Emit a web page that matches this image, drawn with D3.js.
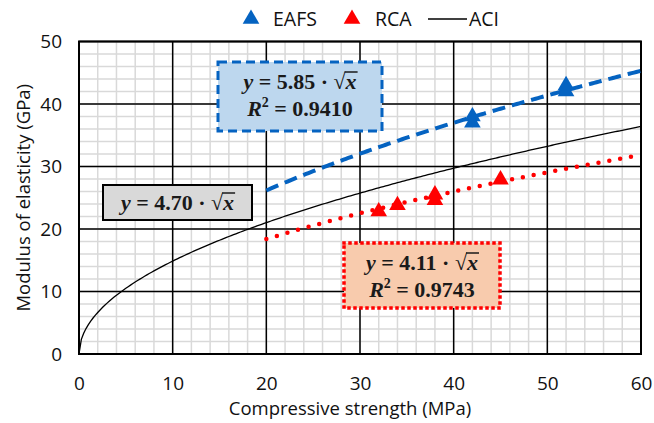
<!DOCTYPE html>
<html>
<head>
<meta charset="utf-8">
<script src="https://cdn.jsdelivr.net/npm/d3@7"></script>
<style>
  body { margin: 0; background: #fff; }
  text { font-family: "Open Sans", "Liberation Sans", sans-serif; }
  .eq { font-family: "Liberation Serif", "DejaVu Serif", serif; font-weight: bold; }
</style>
</head>
<body>
<svg id="chart" width="654" height="423"></svg>
<script>
const eafsX = [42, 42, 52, 52];
const eafsY = [38, 37, 43, 42];
const rcaX = [32, 34, 38, 38, 45];
const rcaY = [22.8, 23.8, 25.5, 24.6, 27.9];

// trendline coefficients y = a * sqrt(x), and their range of x
const fitNames = ["EAFS", "RCA", "ACI"];
const fitCoef = [5.85, 4.11, 4.70];
const fitR2 = ["0.9410", "0.9743", null];
const fitFrom = [20, 20, 0];

const xTicks = [0, 10, 20, 30, 40, 50, 60];
const yTicks = [0, 10, 20, 30, 40, 50];

const width = 654, height = 423;
const margin = { left: 79, right: 13, top: 41.5, bottom: 69 };

const svg = d3.select("#chart");

const x = d3.scaleLinear().domain([0, 60]).range([margin.left, width - margin.right]);
const y = d3.scaleLinear().domain([0, 50]).range([height - margin.bottom, margin.top]);

// minor grid
const grid = svg.append("g");
grid.selectAll(".vmin")
  .data(d3.range(0, 61, 2))
  .enter().append("line")
  .attr("x1", d => x(d)).attr("x2", d => x(d))
  .attr("y1", y(0)).attr("y2", y(50))
  .attr("stroke", "#d9d9d9").attr("stroke-width", 1.5);
grid.selectAll(".hmin")
  .data(d3.range(0, 51, 2))
  .enter().append("line")
  .attr("y1", d => y(d)).attr("y2", d => y(d))
  .attr("x1", x(0)).attr("x2", x(60))
  .attr("stroke", "#d9d9d9").attr("stroke-width", 1.5);

// major grid
grid.selectAll(".vmaj")
  .data(xTicks)
  .enter().append("line")
  .attr("x1", d => x(d)).attr("x2", d => x(d))
  .attr("y1", y(0)).attr("y2", y(50))
  .attr("stroke", "#000").attr("stroke-width", 1.5);
grid.selectAll(".hmaj")
  .data(yTicks)
  .enter().append("line")
  .attr("y1", d => y(d)).attr("y2", d => y(d))
  .attr("x1", x(0)).attr("x2", x(60))
  .attr("stroke", "#000").attr("stroke-width", 1.5);

svg.append("rect")
  .attr("x", x(0)).attr("y", y(50))
  .attr("width", x(60) - x(0)).attr("height", y(0) - y(50))
  .attr("fill", "none").attr("stroke", "#000").attr("stroke-width", 2);

// axes
const xAxis = svg.append("g")
  .attr("transform", `translate(0, ${y(0) + 19})`)
  .call(d3.axisBottom(x).tickValues(xTicks).tickSize(0));
xAxis.select(".domain").remove();
xAxis.selectAll("text").attr("font-size", 19).attr("fill", "#111").attr("font-family", "Open Sans");

const yAxis = svg.append("g")
  .attr("transform", `translate(${x(0) - 14}, 0)`)
  .call(d3.axisLeft(y).tickValues(yTicks).tickSize(0));
yAxis.select(".domain").remove();
yAxis.selectAll("text").attr("font-size", 19).attr("fill", "#111").attr("font-family", "Open Sans");

svg.append("text")
  .attr("x", 350).attr("y", 415)
  .attr("text-anchor", "middle").attr("font-size", 18.5).attr("fill", "#111")
  .text("Compressive strength (MPa)");

svg.append("text")
  .attr("transform", `translate(30, ${(y(0) + y(50)) / 2}) rotate(-90)`)
  .attr("text-anchor", "middle").attr("font-size", 18.5).attr("fill", "#111")
  .text("Modulus of elasticity (GPa)");

// trend curves
const line = d3.line().x(d => x(d[0])).y(d => y(d[1]));
function curve(i) {
  return d3.range(fitFrom[i], 60.001, 0.25).map(v => [v, fitCoef[i] * Math.sqrt(v)]);
}

svg.append("path")
  .datum(curve(2))
  .attr("d", line)
  .attr("fill", "none").attr("stroke", "#000").attr("stroke-width", 1.3);

svg.append("path")
  .datum(curve(0))
  .attr("d", line)
  .attr("fill", "none").attr("stroke", "#0563c1").attr("stroke-width", 4)
  .attr("stroke-dasharray", "13 7");

svg.append("path")
  .datum(curve(1))
  .attr("d", line)
  .attr("fill", "none").attr("stroke", "#ff0000").attr("stroke-width", 4.5)
  .attr("stroke-linecap", "round")
  .attr("stroke-dasharray", "0 11");

// markers
const tri = d3.symbol().type(d3.symbolTriangle).size(120);
svg.selectAll(".eafs")
  .data(d3.zip(eafsX, eafsY))
  .enter().append("path")
  .attr("d", tri)
  .attr("transform", d => `translate(${x(d[0])}, ${y(d[1])})`)
  .attr("fill", "#0563c1");
svg.selectAll(".rca")
  .data(d3.zip(rcaX, rcaY))
  .enter().append("path")
  .attr("d", tri)
  .attr("transform", d => `translate(${x(d[0])}, ${y(d[1])})`)
  .attr("fill", "#ff0000");

// equation boxes
function eqLine(g, cx, by, coef, isR2) {
  const t = g.append("text")
    .attr("class", "eq").attr("x", cx).attr("y", by)
    .attr("text-anchor", "middle").attr("font-size", 22).attr("fill", "#1a1a1a");
  if (isR2) {
    t.append("tspan").attr("font-style", "italic").text("R");
    t.append("tspan").attr("font-size", 14).attr("dy", -9).text("2");
    t.append("tspan").attr("dy", 9).text(" = " + coef);
  } else {
    t.append("tspan").attr("font-style", "italic").text("y");
    t.append("tspan").text(" = " + coef + " · √");
    const xs = t.append("tspan").attr("font-style", "italic").text("x");
    const node = xs.node();
    const x0 = node.getStartPositionOfChar(0).x;
    const x1 = node.getEndPositionOfChar(0).x;
    g.append("line")
      .attr("x1", x0 - 1).attr("x2", x1 + 1)
      .attr("y1", by - 17).attr("y2", by - 17)
      .attr("stroke", "#1a1a1a").attr("stroke-width", 1.5);
  }
}

const boxes = [
  { i: 0, x0: 218, y0: 62, x1: 382, y1: 131, fill: "#bdd7ee", stroke: "#0563c1", dash: "9 5", w: 3, cap: "butt" },
  { i: 1, x0: 344, y0: 243, x1: 500, y1: 308, fill: "#f8cbad", stroke: "#ff0000", dash: "0 6", w: 3.5, cap: "square" },
  { i: 2, x0: 103, y0: 185, x1: 252, y1: 220, fill: "#d9d9d9", stroke: "#000", dash: null, w: 2, cap: "butt" }
];

boxes.forEach(b => {
  const g = svg.append("g");
  g.append("rect")
    .attr("x", b.x0).attr("y", b.y0)
    .attr("width", b.x1 - b.x0).attr("height", b.y1 - b.y0)
    .attr("fill", b.fill).attr("stroke", b.stroke).attr("stroke-width", b.w)
    .attr("stroke-dasharray", b.dash).attr("stroke-linecap", b.cap);
  const cx = (b.x0 + b.x1) / 2;
  const coef = fitCoef[b.i].toFixed(2);
  if (fitR2[b.i]) {
    eqLine(g, cx, b.y0 + 27, coef, false);
    eqLine(g, cx, b.y0 + 54, fitR2[b.i], true);
  } else {
    eqLine(g, cx, b.y0 + 25, coef, false);
  }
});

// legend
const legend = svg.append("g").attr("font-size", 19.5).attr("fill", "#111");
legend.append("path").attr("d", tri).attr("transform", "translate(251, 19)").attr("fill", "#0563c1");
legend.append("text").attr("x", 273).attr("y", 26).text(fitNames[0]);
legend.append("path").attr("d", tri).attr("transform", "translate(352, 19)").attr("fill", "#ff0000");
legend.append("text").attr("x", 375).attr("y", 26).text(fitNames[1]);
legend.append("line").attr("x1", 428).attr("x2", 467).attr("y1", 19).attr("y2", 19)
  .attr("stroke", "#000").attr("stroke-width", 1.5);
legend.append("text").attr("x", 469).attr("y", 26).text(fitNames[2]);
</script>
</body>
</html>
